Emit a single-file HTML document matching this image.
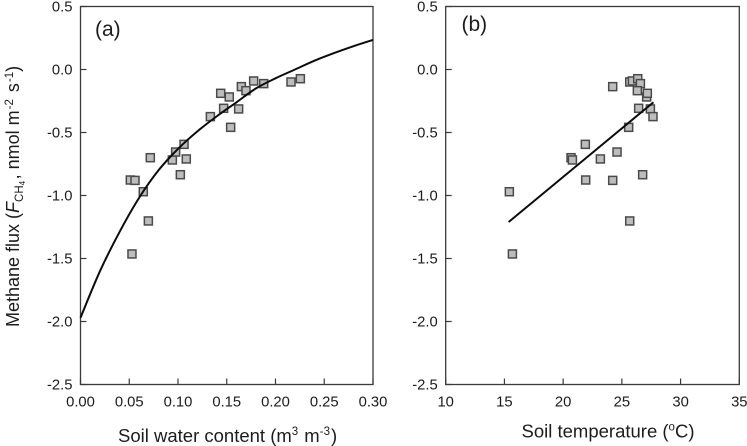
<!DOCTYPE html>
<html>
<head>
<meta charset="utf-8">
<style>
html,body{margin:0;padding:0;background:#fff;width:747px;height:446px;overflow:hidden}
svg{display:block;font-family:"Liberation Sans",Arial,sans-serif;fill:#1c1c1c;filter:blur(0.3px)}
.t{font-size:14.8px}
.at{font-size:18px}
.xt{font-size:18.5px}
.sp{font-size:11.5px}
</style>
</head>
<body>
<svg id="chart" width="747" height="446" viewBox="0 0 747 446" xmlns="http://www.w3.org/2000/svg">
<g id="panel-a"></g>
<g id="panel-b"></g>
<text x="95" y="36" font-size="21">(a)</text>
<text x="461.5" y="31" font-size="21">(b)</text>
<text class="at" transform="translate(19,327) rotate(-90)">Methane flux (<tspan font-style="italic">F</tspan><tspan class="sp" dy="4">CH</tspan><tspan font-size="8" dy="2">4</tspan><tspan dy="-6" dx="1.5">, nmol m</tspan><tspan class="sp" dy="-6" dx="1">-2</tspan><tspan dy="6" dx="2"> s</tspan><tspan class="sp" dy="-6" dx="1">-1</tspan><tspan dy="6">)</tspan></text>
<text class="xt" x="118" y="442">Soil water content (m<tspan class="sp" dy="-7">3</tspan><tspan dy="7" dx="1"> m</tspan><tspan class="sp" dy="-7">-3</tspan><tspan dy="7" dx="1">)</tspan></text>
<text class="xt" x="521.5" y="437.5">Soil temperature (<tspan class="sp" dy="-7">o</tspan><tspan dy="7">C)</tspan></text>
</svg>
<script>
const yTicks = [0.5, 0.0, -0.5, -1.0, -1.5, -2.0, -2.5];
const xTicksA = [0.00, 0.05, 0.10, 0.15, 0.20, 0.25, 0.30];
const xTicksB = [10, 15, 20, 25, 30, 35];

const moistureA = [0.0511,0.0559,0.0644,0.0716,0.0696,0.0528,0.0942,0.0976,0.1062,0.1085,0.1024,0.1332,0.1438,0.1468,0.1526,0.1540,0.1622,0.1650,0.1697,0.1776,0.1879,0.2159,0.2255];
const fluxA = [-0.877,-0.880,-0.970,-0.700,-1.202,-1.464,-0.718,-0.655,-0.594,-0.710,-0.835,-0.374,-0.189,-0.308,-0.218,-0.459,-0.313,-0.136,-0.168,-0.091,-0.112,-0.099,-0.073];
const curveX = [0,0.02,0.04,0.06,0.08,0.10,0.12,0.14,0.16,0.18,0.20,0.22,0.24,0.26,0.28,0.30];
const curveY = [-1.97,-1.60,-1.29,-1.02,-0.80,-0.63,-0.49,-0.37,-0.26,-0.15,-0.07,0.0,0.07,0.13,0.185,0.235];

const tempB = [15.42,15.68,25.67,20.67,20.79,21.89,21.92,23.17,24.22,24.59,26.77,25.58,24.22,25.67,25.90,26.35,26.58,26.32,27.11,27.17,26.43,27.43,27.65];
const fluxB = [-0.970,-1.464,-1.202,-0.700,-0.718,-0.594,-0.877,-0.710,-0.880,-0.655,-0.835,-0.459,-0.136,-0.099,-0.091,-0.073,-0.112,-0.168,-0.218,-0.189,-0.308,-0.313,-0.374];
const lineX = [15.36,27.69];
const lineY = [-1.21,-0.26];

const NS = 'http://www.w3.org/2000/svg';
function mk(parent, tag, attrs, text) {
  const el = document.createElementNS(NS, tag);
  for (const k in attrs) el.setAttribute(k, attrs[k]);
  if (text !== undefined) el.textContent = text;
  parent.appendChild(el);
  return el;
}
function smoothPath(p) {
  let d = 'M' + p[0][0].toFixed(2) + ' ' + p[0][1].toFixed(2);
  for (let i = 0; i < p.length - 1; i++) {
    const a = p[Math.max(i - 1, 0)], b = p[i], c = p[i + 1], e = p[Math.min(i + 2, p.length - 1)];
    const c1x = b[0] + (c[0] - a[0]) / 6, c1y = b[1] + (c[1] - a[1]) / 6;
    const c2x = c[0] - (e[0] - b[0]) / 6, c2y = c[1] - (e[1] - b[1]) / 6;
    d += 'C' + c1x.toFixed(2) + ' ' + c1y.toFixed(2) + ' ' + c2x.toFixed(2) + ' ' + c2y.toFixed(2) + ' ' + c[0].toFixed(2) + ' ' + c[1].toFixed(2);
  }
  return d;
}
function drawPanel(id, box, xMin, xMax, xTicks, xFmt, px, py, lx, ly, lw) {
  const g = document.getElementById(id);
  const sx = v => box.l + (v - xMin) / (xMax - xMin) * (box.r - box.l);
  const sy = v => box.t + (0.5 - v) / 3 * (box.b - box.t);
  const frame = mk(g, 'rect', {x: box.l, y: box.t, width: box.r - box.l, height: box.b - box.t, fill: 'none', stroke: '#3a3a3a', 'stroke-width': 1.3});
  
  
  yTicks.forEach(v => {
    const tick = mk(g, 'line', {x1: box.l, x2: box.l + 6, y1: sy(v), y2: sy(v), stroke: '#3a3a3a', 'stroke-width': 1.2});
    
    
    const label = mk(g, 'text', {class: 't', x: box.l - 8, y: sy(v) + 5, 'text-anchor': 'end'}, v.toFixed(1));
    
    
  });
  xTicks.forEach(v => {
    const tick = mk(g, 'line', {x1: sx(v), x2: sx(v), y1: box.b, y2: box.b - 6, stroke: '#3a3a3a', 'stroke-width': 1.2});
    
    
    const label = mk(g, 'text', {class: 't', x: sx(v), y: box.b + 22, 'text-anchor': 'middle'}, xFmt(v));
    
    
  });
  px.forEach((v, i) => {
    const p = mk(g, 'rect', {x: sx(v) - 4, y: sy(py[i]) - 4, width: 8, height: 8, fill: '#bdbdbd', stroke: '#4a4a4a', 'stroke-width': 1.5});
    
    
  });
  const pts = lx.map((v, i) => [sx(v), sy(ly[i])]);
  const fit = mk(g, 'path', {d: smoothPath(pts), fill: 'none', stroke: '#0c0c0c', 'stroke-width': lw});
  
  
}
drawPanel('panel-a', {l: 80.5, r: 373, t: 6.5, b: 384.5}, 0, 0.30, xTicksA, v => v.toFixed(2), moistureA, fluxA, curveX, curveY, 2);
drawPanel('panel-b', {l: 445.7, r: 739.3, t: 6.5, b: 384.5}, 10, 35, xTicksB, v => String(v), tempB, fluxB, lineX, lineY, 2);
</script>
</body>
</html>
